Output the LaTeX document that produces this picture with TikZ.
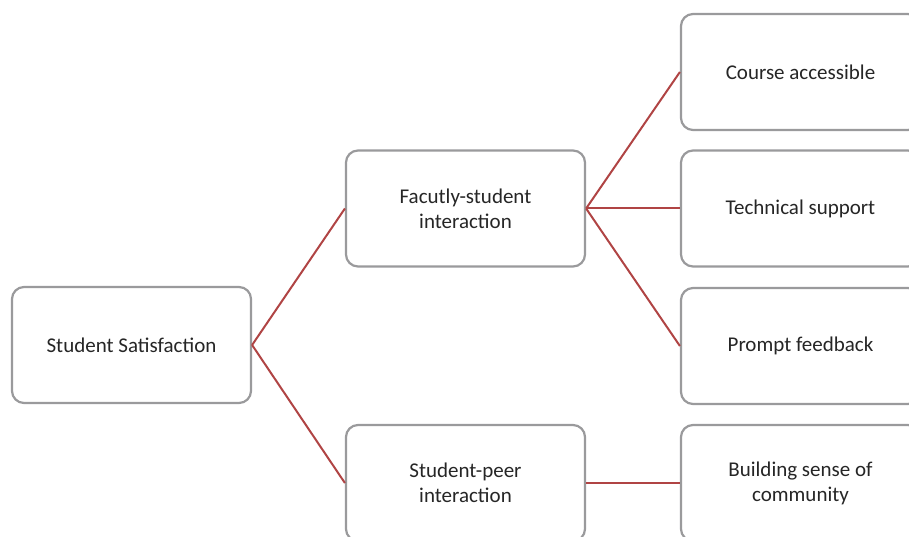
\documentclass[tikz,border=0pt]{standalone}
\usepackage{fontspec}
\setmainfont{Carlito}
\definecolor{boxgray}{HTML}{9A9A9C}
\definecolor{linkred}{HTML}{B04444}
\definecolor{txtgray}{HTML}{262626}
\tikzset{
  itembox/.style={draw=boxgray, line width=2.2pt, rounded corners=12pt, fill=white,
    minimum width=239pt, minimum height=116pt, align=center,
    text=txtgray, font=\fontsize{21}{25}\selectfont},
  link/.style={draw=linkred, line width=2pt}
}
\begin{document}
\begin{tikzpicture}[x=1pt,y=-1pt]
  \useasboundingbox (0,0) rectangle (909,537);
  \node[itembox] (satisfaction) at (131.5,345) {Student Satisfaction};
  \node[itembox] (faculty) at (465.5,208.5) {Facutly-student\\interaction};
  \node[itembox] (peer) at (465.5,483) {Student-peer\\interaction};
  \node[itembox] (access) at (800.5,72) {Course accessible};
  \node[itembox] (support) at (800.5,208.5) {Technical support};
  \node[itembox] (feedback) at (800.5,346) {Prompt feedback};
  \node[itembox] (community) at (800.5,483) {Building sense of\\community};
  \draw[link] (satisfaction.east) -- (faculty.west);
  \draw[link] (satisfaction.east) -- (peer.west);
  \draw[link] (faculty.east) -- (access.west);
  \draw[link] (faculty.east) -- (support.west);
  \draw[link] (faculty.east) -- (feedback.west);
  \draw[link] (peer.east) -- (community.west);
\end{tikzpicture}
\end{document}
